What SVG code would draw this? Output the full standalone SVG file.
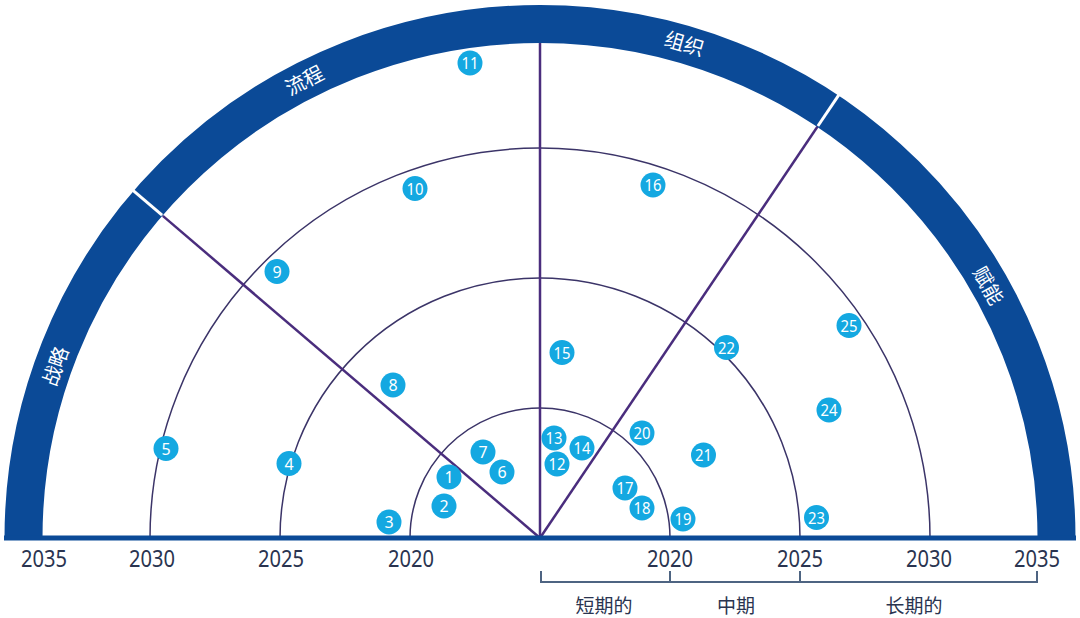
<svg xmlns="http://www.w3.org/2000/svg" width="1080" height="618" viewBox="0 0 1080 618">
<style>
.band{fill:none;stroke:#0b4a97;stroke-width:38}
.sep{stroke:#ffffff;stroke-width:3}
.ring{fill:none;stroke:#3b3468;stroke-width:1.5}
.div{stroke:#4a2d7d;stroke-width:2.5}
.base{stroke:#0b4a97;stroke-width:5}
.bk{fill:none;stroke:#4e6482;stroke-width:2}
.yr{font-family:"Noto Sans","Open Sans",sans-serif;font-size:23px;fill:#2a3450;text-anchor:middle}
.cat{font-family:"Noto Sans CJK SC",sans-serif;font-size:20px;fill:#ffffff;text-anchor:middle;dominant-baseline:central}
.term{font-family:"Noto Sans CJK SC",sans-serif;font-size:19px;fill:#2a3450;text-anchor:middle}
.dot circle{fill:#14a8e1}
.dot text{font-family:"Noto Sans","Open Sans",sans-serif;font-size:16px;fill:#ffffff;text-anchor:middle;dominant-baseline:central}
</style>
<rect width="1080" height="618" fill="#ffffff"/>
<g id="chart">
<path class="band" d="M 23.5 538 A 516.5 514 0 0 1 1056.5 538"/>
<line class="sep" x1="162.1" y1="215.2" x2="132.4" y2="189.9"/>
<line class="sep" x1="817.9" y1="126.0" x2="839.7" y2="93.7"/>
<path class="ring" d="M 410 538 A 130 130 0 0 1 670 538"/>
<path class="ring" d="M 280 538 A 260 260 0 0 1 800 538"/>
<path class="ring" d="M 150 538 A 390 390 0 0 1 930 538"/>
<line class="div" x1="540" y1="538" x2="540" y2="43"/>
<line class="div" x1="540" y1="538" x2="162.8" y2="215.9"/>
<line class="div" x1="540" y1="538" x2="817.4" y2="126.8"/>
<line class="base" x1="4" y1="538" x2="1076" y2="538"/>
<text class="cat" x="54.3" y="365.9" transform="rotate(-70.6 54.3 365.9)">战略</text>
<text class="cat" x="303.8" y="79.4" transform="rotate(-27.3 303.8 79.4)">流程</text>
<text class="cat" x="684.6" y="42.7" transform="rotate(16.3 684.6 42.7)">组织</text>
<text class="cat" x="989.1" y="285" transform="rotate(60.7 989.1 285)">赋能</text>
</g>
<g id="axis">
<text class="yr" x="44" y="567" textLength="46" lengthAdjust="spacingAndGlyphs">2035</text>
<text class="yr" x="152" y="567" textLength="46" lengthAdjust="spacingAndGlyphs">2030</text>
<text class="yr" x="281" y="567" textLength="46" lengthAdjust="spacingAndGlyphs">2025</text>
<text class="yr" x="411" y="567" textLength="46" lengthAdjust="spacingAndGlyphs">2020</text>
<text class="yr" x="670" y="567" textLength="46" lengthAdjust="spacingAndGlyphs">2020</text>
<text class="yr" x="800" y="567" textLength="46" lengthAdjust="spacingAndGlyphs">2025</text>
<text class="yr" x="929" y="567" textLength="46" lengthAdjust="spacingAndGlyphs">2030</text>
<text class="yr" x="1037" y="567" textLength="46" lengthAdjust="spacingAndGlyphs">2035</text>
<path class="bk" d="M 541 571 V 582 H 1037 V 571 M 670 571 V 582 M 800 571 V 582"/>
<text class="term" x="604" y="613">短期的</text>
<text class="term" x="736" y="613">中期</text>
<text class="term" x="914" y="613">长期的</text>
</g>
<g id="nodes">
<g id="n1" class="dot"><circle cx="449" cy="477" r="12.5"/><text x="449" y="477">1</text></g>
<g id="n2" class="dot"><circle cx="444" cy="506" r="12.5"/><text x="444" y="506">2</text></g>
<g id="n3" class="dot"><circle cx="389" cy="522" r="12.5"/><text x="389" y="522">3</text></g>
<g id="n4" class="dot"><circle cx="289" cy="463.5" r="12.5"/><text x="289" y="463.5">4</text></g>
<g id="n5" class="dot"><circle cx="166" cy="448.5" r="12.5"/><text x="166" y="448.5">5</text></g>
<g id="n6" class="dot"><circle cx="502" cy="472" r="12.5"/><text x="502" y="472">6</text></g>
<g id="n7" class="dot"><circle cx="483" cy="452" r="12.5"/><text x="483" y="452">7</text></g>
<g id="n8" class="dot"><circle cx="393" cy="385" r="12.5"/><text x="393" y="385">8</text></g>
<g id="n9" class="dot"><circle cx="277" cy="271.5" r="12.5"/><text x="277" y="271.5">9</text></g>
<g id="n10" class="dot"><circle cx="415" cy="188.5" r="12.5"/><text x="415" y="188.5" textLength="17" lengthAdjust="spacingAndGlyphs">10</text></g>
<g id="n11" class="dot"><circle cx="470" cy="63" r="12.5"/><text x="470" y="63" textLength="17" lengthAdjust="spacingAndGlyphs">11</text></g>
<g id="n12" class="dot"><circle cx="557" cy="464" r="12.5"/><text x="557" y="464" textLength="17" lengthAdjust="spacingAndGlyphs">12</text></g>
<g id="n13" class="dot"><circle cx="554" cy="438" r="12.5"/><text x="554" y="438" textLength="17" lengthAdjust="spacingAndGlyphs">13</text></g>
<g id="n14" class="dot"><circle cx="582" cy="448" r="12.5"/><text x="582" y="448" textLength="17" lengthAdjust="spacingAndGlyphs">14</text></g>
<g id="n15" class="dot"><circle cx="562" cy="352.5" r="12.5"/><text x="562" y="352.5" textLength="17" lengthAdjust="spacingAndGlyphs">15</text></g>
<g id="n16" class="dot"><circle cx="653" cy="185" r="12.5"/><text x="653" y="185" textLength="17" lengthAdjust="spacingAndGlyphs">16</text></g>
<g id="n17" class="dot"><circle cx="625" cy="488" r="12.5"/><text x="625" y="488" textLength="17" lengthAdjust="spacingAndGlyphs">17</text></g>
<g id="n18" class="dot"><circle cx="642" cy="508" r="12.5"/><text x="642" y="508" textLength="17" lengthAdjust="spacingAndGlyphs">18</text></g>
<g id="n19" class="dot"><circle cx="683" cy="519" r="12.5"/><text x="683" y="519" textLength="17" lengthAdjust="spacingAndGlyphs">19</text></g>
<g id="n20" class="dot"><circle cx="642" cy="433" r="12.5"/><text x="642" y="433" textLength="17" lengthAdjust="spacingAndGlyphs">20</text></g>
<g id="n21" class="dot"><circle cx="703.5" cy="455" r="12.5"/><text x="703.5" y="455" textLength="17" lengthAdjust="spacingAndGlyphs">21</text></g>
<g id="n22" class="dot"><circle cx="726.5" cy="347.5" r="12.5"/><text x="726.5" y="347.5" textLength="17" lengthAdjust="spacingAndGlyphs">22</text></g>
<g id="n23" class="dot"><circle cx="816.5" cy="517.5" r="12.5"/><text x="816.5" y="517.5" textLength="17" lengthAdjust="spacingAndGlyphs">23</text></g>
<g id="n24" class="dot"><circle cx="829" cy="410" r="12.5"/><text x="829" y="410" textLength="17" lengthAdjust="spacingAndGlyphs">24</text></g>
<g id="n25" class="dot"><circle cx="849" cy="325.5" r="12.5"/><text x="849" y="325.5" textLength="17" lengthAdjust="spacingAndGlyphs">25</text></g>
</g>
<g id="connectors"></g>
</svg>
